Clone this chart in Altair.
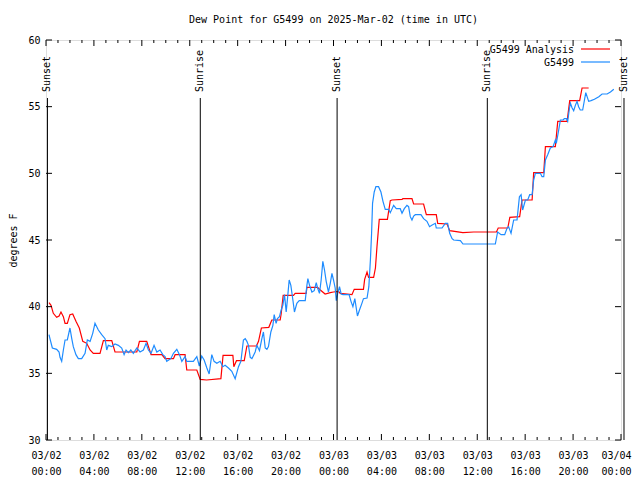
import altair as alt
import pandas as pd

# ---- data (hours after 2025-03-02 00:00 UTC, dew point in F) ----
red_h = [0.25, 0.42, 0.61, 0.89, 1.09, 1.25, 1.45, 1.59, 1.78, 2.0, 2.23, 2.5, 2.78, 3.07, 3.4, 3.68, 3.95,
         4.51, 4.79, 5.49, 5.76, 7.58, 7.8, 8.41, 8.77, 9.67, 9.94, 10.64, 10.78, 11.61, 11.75, 12.59, 12.87,
         13.4, 14.6, 14.78, 15.6, 15.68, 15.9, 16.55, 16.77, 17.57, 17.74, 17.98, 18.6, 18.85, 19.55, 19.63,
         19.8, 20.66, 20.8, 21.72, 21.78, 22.67, 22.9, 23.3, 23.73, 24.0, 24.42, 24.56, 25.54, 25.73, 26.5,
         26.6, 26.8, 26.93, 27.35, 27.5, 27.63, 27.82, 28.5, 28.74, 28.88, 29.72, 29.8, 30.55, 30.69, 31.52,
         31.75, 32.58, 32.7, 33.48, 33.7, 34.8, 35.7, 37.6, 37.75, 38.55, 38.72, 39.54, 39.74, 40.58, 40.71,
         41.55, 41.69, 42.52, 42.72, 43.5, 43.72, 44.55, 44.75, 45.3]
red_v = [40.3, 40.1, 39.5, 39.2, 39.3, 39.6, 39.25, 38.75, 38.75, 39.4, 39.45, 38.9, 38.4, 37.4, 37.25, 36.75, 36.5,
         36.5, 37.45, 37.45, 36.6, 36.6, 37.4, 37.4, 36.4, 36.4, 36.1, 36.1, 36.4, 36.4, 35.25, 35.25, 34.55,
         34.5, 34.6, 36.35, 36.35, 35.5, 35.95, 35.95, 37.05, 37.05, 37.4, 38.4, 38.45, 39.0, 39.0, 39.45,
         40.85, 40.85, 41.0, 41.0, 41.45, 41.45, 41.25, 40.95, 41.05, 41.1, 41.15, 41.0, 40.9, 41.3, 41.3,
         42.05, 42.6, 42.2, 42.2, 42.9, 44.5, 46.55, 46.55, 47.95, 48.0, 48.05, 48.1, 48.1, 47.7, 47.7,
         46.9, 46.9, 46.25, 46.2, 45.7, 45.55, 45.6, 45.6, 45.9, 45.9, 46.7, 46.75, 48.0, 48.0, 50.05,
         50.05, 52.0, 52.0, 53.9, 53.9, 55.45, 55.45, 56.4, 56.4]

blue_h = [0.25, 0.33, 0.53, 0.89, 1.09, 1.17, 1.31, 1.45, 1.59, 1.78, 2.0, 2.15, 2.28, 2.5, 2.7, 2.98, 3.26, 3.45,
          3.68, 3.9, 4.09, 4.37, 4.65, 4.93, 5.07, 5.2, 5.49, 5.76, 6.04, 6.32, 6.52, 6.68, 6.88, 7.08, 7.29,
          7.58, 7.85, 8.13, 8.35, 8.55, 8.77, 9.02, 9.25, 9.52, 9.75, 9.94, 10.08, 10.42, 10.64, 10.92, 11.14,
          11.34, 11.61, 11.75, 12.3, 12.59, 12.8, 13.0, 13.2, 13.43, 13.62, 13.84, 14.03, 14.26, 14.54, 14.76,
          14.95, 15.23, 15.51, 15.79, 16.07, 16.27, 16.48, 16.63, 16.77, 16.9, 17.05, 17.19, 17.3, 17.46, 17.6,
          17.82, 18.02, 18.15, 18.3, 18.44, 18.57, 18.77, 18.94, 19.05, 19.21, 19.32, 19.49, 19.63, 19.77,
          19.91, 20.05, 20.16, 20.3, 20.44, 20.61, 20.74, 20.94, 21.14, 21.64, 21.78, 21.86, 22.0, 22.2, 22.39,
          22.56, 22.67, 22.83, 22.97, 23.11, 23.25, 23.39, 23.58, 23.73, 23.87, 24.0, 24.14, 24.23, 24.35,
          24.5, 24.64, 24.79, 25.3, 25.46, 25.62, 25.78, 26.0, 26.17, 26.37, 26.5, 26.8, 26.95, 27.08, 27.18,
          27.26, 27.4, 27.54, 27.76, 27.96, 28.13, 28.32, 28.6, 28.74, 29.02, 29.24, 29.57, 29.72, 29.91,
          30.13, 30.27, 30.41, 30.55, 30.69, 30.83, 31.3, 31.52, 31.8, 32.02, 32.2, 32.5, 32.58, 33.06, 33.33,
          33.53, 33.7, 33.9, 34.03, 34.59, 34.81, 37.51, 37.7, 37.99, 38.29, 38.49, 38.62, 38.82, 39.04, 39.32,
          39.52, 39.66, 39.79, 40.02, 40.21, 40.38, 40.58, 40.71, 40.85, 41.27, 41.41, 41.55, 41.69, 41.88,
          42.1, 42.33, 42.52, 42.6, 42.8, 42.94, 43.17, 43.27, 43.45, 43.55, 43.7, 43.78, 43.92, 44.05, 44.19,
          44.33, 44.46, 44.6, 44.8, 44.95, 45.06, 45.17, 45.3, 45.5, 45.78, 46.15, 46.42, 46.84, 47.12, 47.4]
blue_v = [37.9, 37.6, 36.9, 36.8, 36.6, 36.2, 35.9, 36.75, 37.5, 37.5, 38.4, 37.6, 37.0, 36.4, 36.1, 36.1, 36.5, 37.5,
          37.4, 38.0, 38.75, 38.25, 37.9, 37.6, 36.75, 37.1, 37.0, 37.2, 37.1, 36.9, 36.4, 36.75, 36.55, 36.75, 36.5,
          36.9, 36.6, 36.75, 37.25, 36.75, 36.5, 37.1, 36.6, 36.75, 36.4, 36.25, 35.9, 36.1, 36.5, 36.8, 36.4,
          35.9, 36.25, 35.9, 35.9, 36.25, 35.55, 36.3, 36.0, 35.4, 34.95, 36.4, 35.9, 35.75, 35.9, 35.5,
          35.6, 35.4, 35.15, 34.6, 35.5, 35.9, 37.5, 37.6, 37.4, 37.1, 36.2, 36.1, 36.3, 36.6, 37.1,
          36.7, 37.6, 38.1, 36.9, 36.8, 37.0, 38.1, 38.6, 39.4, 38.75, 39.1, 39.25, 39.75, 40.1,
          40.9, 39.6, 40.6, 42.0, 41.6, 40.5, 39.6, 40.25, 40.45, 40.45, 41.6, 42.1, 41.6, 41.1, 41.2,
          41.8, 41.4, 41.0, 42.0, 43.4, 42.75, 41.9, 41.1, 41.75, 42.5, 42.0, 41.4, 40.45, 41.0,
          41.5, 40.95, 40.9, 40.9, 40.4, 40.0, 40.6, 39.3, 39.75, 40.25, 40.6, 40.65, 41.5, 43.5, 45.5,
          47.75, 48.6, 49.0, 49.0, 48.6, 47.9, 47.3, 47.3, 47.05, 47.6, 47.35, 47.35, 47.0, 47.35,
          47.6, 47.5, 46.75, 46.5, 46.8, 46.9, 46.9, 46.6, 46.4, 46.0, 46.1, 46.25, 45.9, 45.9, 46.25,
          46.25, 45.5, 45.1, 45.0, 44.95, 44.7, 44.7, 45.6, 45.4, 45.4, 45.9, 46.0, 45.5, 46.5, 46.5,
          48.25, 48.4, 47.25, 48.0, 48.0, 48.4, 48.4, 49.5, 50.0, 50.0, 49.75, 49.75, 51.0, 51.4,
          51.9, 52.0, 52.5, 52.25, 53.25, 54.0, 54.0, 54.1, 54.1, 53.9, 54.9, 55.25, 54.9, 54.7, 55.1,
          55.4, 55.0, 54.75, 54.75, 55.5, 56.05, 55.75, 55.4, 55.45, 55.55, 55.75, 55.95, 55.95, 56.1, 56.3]

event_h = [0.12, 12.88, 24.3, 36.84, 48.25]
event_name = ["Sunset", "Sunrise", "Sunset", "Sunrise", "Sunset"]

x_major = list(range(0, 49, 4))
x_minor = [h for h in range(1, 48) if h % 4 != 0]
y_ticks = [30, 35, 40, 45, 50, 55, 60]

series_names = ["G5499 Analysis", "G5499"]
series_colors = ["#ff0000", "#1e8cff"]

FONT = "DejaVu Sans Mono"
W, H = 575, 400

red_df = pd.DataFrame({"h": red_h, "v": red_v})
blue_df = pd.DataFrame({"h": blue_h, "v": blue_v})
ev_df = pd.DataFrame({"h": event_h, "name": event_name})
xmaj_df = pd.DataFrame({"h": x_major})
xmin_df = pd.DataFrame({"h": x_minor})
yt_df = pd.DataFrame({"v": y_ticks})

xs = alt.Scale(domain=[0, 48], nice=False, zero=False)
ys = alt.Scale(domain=[30, 60], nice=False, zero=False)

label_expr = ("['03/0' + (2 + floor(datum.value / 24)), "
              "(datum.value % 24 < 10 ? '0' : '') + (datum.value % 24) + ':00']")

x_axis = alt.Axis(values=x_major, labelExpr=label_expr, ticks=False, domain=False, grid=False,
                  labelPadding=10, labelLineHeight=16, labelFlush=False, labelOverlap=False,
                  labelBaseline="top", title=None, labelFont=FONT, labelFontSize=10, labelColor="black",
                  labelOffset={"condition": {"test": "datum.value >= 48", "value": -5}, "value": 0})
y_axis = alt.Axis(values=y_ticks, ticks=False, domain=False, grid=False, labelPadding=6,
                  labelFont=FONT, labelFontSize=10, labelColor="black",
                  title="degrees F", titleFont=FONT, titleFontSize=10, titleFontWeight="normal",
                  titleColor="black", titlePadding=9)


def X(field="h"):
    return alt.X(f"{field}:Q", scale=xs, axis=x_axis)


def Y(field="v"):
    return alt.Y(f"{field}:Q", scale=ys, axis=y_axis)


red_line = alt.Chart(red_df).mark_line(color=series_colors[0], strokeWidth=1.2).encode(x=X(), y=Y())
blue_line = alt.Chart(blue_df).mark_line(color=series_colors[1], strokeWidth=1.2).encode(x=X(), y=Y())

ev_rule = alt.Chart(ev_df).mark_rule(color="black", strokeWidth=1, clip=False).encode(
    x=X(), y=alt.value(58), y2=alt.value(H),
)
ev_text = alt.Chart(ev_df).mark_text(font=FONT, fontSize=10, angle=270, align="left",
                                     baseline="middle", color="black", clip=False).encode(
    x=X(), y=alt.value(52), text="name:N",
)

# inward tick marks (bottom/top, left/right)
tick_layers = []
for df, ln in ((xmaj_df, 6), (xmin_df, 3)):
    tick_layers.append(alt.Chart(df).mark_rule(color="black", strokeWidth=1).encode(
        x=X(), y=alt.value(H), y2=alt.value(H - ln)))
    tick_layers.append(alt.Chart(df).mark_rule(color="black", strokeWidth=1).encode(
        x=X(), y=alt.value(0), y2=alt.value(ln)))
tick_layers.append(alt.Chart(yt_df).mark_rule(color="black", strokeWidth=1).encode(
    y=Y(), x=alt.value(0), x2=alt.value(6)))
tick_layers.append(alt.Chart(yt_df).mark_rule(color="black", strokeWidth=1).encode(
    y=Y(), x=alt.value(W), x2=alt.value(W - 6)))

# legend (top-right, inside plot)
leg_df = pd.DataFrame({"name": series_names})
legend_layers = []
for i, (nm, col) in enumerate(zip(series_names, series_colors)):
    yy = 10 + 13 * i
    legend_layers.append(alt.Chart(leg_df).transform_filter(alt.datum.name == nm).mark_text(
        font=FONT, fontSize=10, align="right", baseline="middle", color="black").encode(
        x=alt.value(528), y=alt.value(yy), text="name:N"))
    legend_layers.append(alt.Chart(leg_df).transform_filter(alt.datum.name == nm).mark_rule(
        color=col, strokeWidth=1.2).encode(
        x=alt.value(535), x2=alt.value(564), y=alt.value(yy - 1)))

chart = alt.layer(red_line, blue_line, ev_rule, ev_text, *tick_layers, *legend_layers).properties(
    width=W, height=H,
    title=alt.TitleParams("Dew Point for G5499 on 2025-Mar-02 (time in UTC)", font=FONT, fontSize=10,
                          fontWeight="normal", anchor="middle", color="black", offset=10),
    padding={"left": 38, "top": 32, "right": 11, "bottom": 38},
    autosize=alt.AutoSizeParams(type="none"),
).configure_view(stroke="black", strokeWidth=1).configure(background="white")

chart.save("out.html", embed_options={"renderer": "svg", "actions": False})
